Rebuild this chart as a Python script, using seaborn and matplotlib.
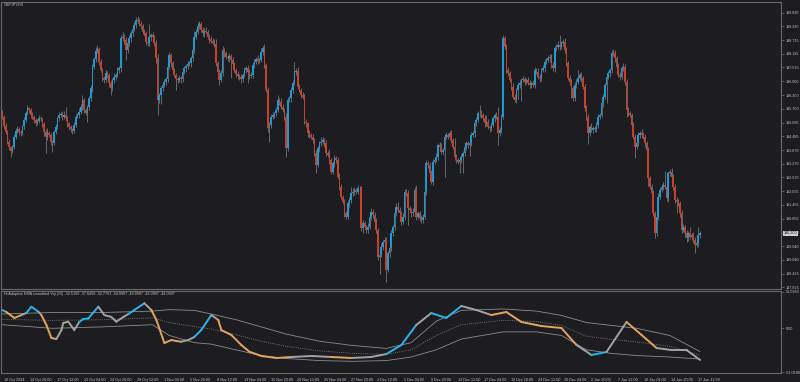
import numpy as np
import pandas as pd
import matplotlib
matplotlib.use("Agg")
import matplotlib.pyplot as plt
import matplotlib.transforms as mtransforms
from matplotlib.collections import LineCollection
import seaborn as sns

# ---------------- data ----------------
symbol_title = "GBPJPY,H4"
ind_title = "Hi Adaptive EMA smoothed Vqi (15) -32.5150 -37.6456 -42.7761 -44.0907 -44.0907 -44.0907 -44.0907"

first_open = 195.55
close = [
 195.35,194.93,194.68,194.24,194.02,193.85,194.02,194.46,194.73,194.79,194.68,194.61,194.93,195.20,195.49,195.71,195.64,195.42,195.35,195.20,
 195.08,195.17,195.27,195.23,195.02,194.68,194.43,194.64,194.54,194.24,194.20,194.68,194.90,195.27,195.42,195.46,195.35,195.42,195.27,195.05,
 194.90,194.79,194.73,194.98,195.35,195.42,195.57,195.79,196.08,195.64,195.52,195.76,196.15,196.59,197.55,197.87,198.26,198.31,197.77,197.40,
 197.04,196.96,197.26,197.18,196.82,196.59,196.96,197.11,197.18,197.40,197.48,198.80,198.87,198.73,198.29,198.58,198.80,199.02,199.20,199.39,
 199.61,199.58,199.43,199.34,199.09,199.02,198.65,198.58,198.84,198.95,198.87,198.58,197.92,196.08,196.30,196.59,196.74,196.89,196.99,197.55,
 198.06,197.70,197.40,197.18,196.99,196.96,197.04,196.99,197.33,197.48,197.58,197.67,197.70,197.92,198.29,198.87,199.09,199.34,199.43,199.17,
 199.02,199.14,199.09,198.87,198.76,198.70,198.61,198.55,197.70,197.33,196.96,197.26,198.29,198.14,197.99,197.92,198.02,197.84,197.67,197.40,
 197.23,197.14,197.08,196.99,197.18,197.40,197.48,197.33,197.14,197.18,197.62,197.77,197.87,197.81,197.84,198.21,198.36,197.62,196.52,194.83,
 194.98,195.35,195.42,195.49,195.64,196.08,196.01,195.79,195.64,195.35,193.95,196.08,196.15,196.52,196.82,197.33,197.37,196.67,196.52,196.30,
 196.23,195.12,195.05,194.61,194.54,194.46,194.32,193.73,193.21,193.95,194.17,194.24,194.32,194.17,193.73,193.65,193.43,192.92,193.29,193.51,
 193.43,192.70,192.26,191.82,191.60,191.08,190.94,191.52,191.67,191.96,192.04,192.11,192.04,192.18,192.18,190.42,190.64,190.49,190.35,190.49,
 190.94,191.16,191.01,190.71,190.35,189.17,189.24,189.61,189.83,189.91,188.58,189.32,189.54,190.20,190.49,191.08,191.38,191.23,191.08,190.71,
 190.94,192.04,191.96,191.30,191.23,191.08,191.16,192.11,190.94,191.08,190.86,190.79,190.94,192.04,193.29,193.21,192.85,192.48,193.36,193.43,
 193.58,194.10,194.02,193.80,193.88,194.46,194.54,194.46,194.61,194.32,194.02,193.58,193.43,193.36,193.43,193.58,193.73,194.02,194.17,194.10,
 194.17,194.54,194.61,195.05,195.20,195.49,195.52,195.42,195.27,195.05,195.12,194.90,194.83,194.98,195.27,195.42,195.35,194.61,194.76,195.35,
 198.80,198.43,197.40,197.26,196.96,196.67,196.23,196.08,196.52,196.74,196.82,196.96,196.99,196.89,196.96,196.82,196.74,196.82,196.74,197.40,
 197.33,197.11,197.04,197.40,197.48,197.77,197.84,197.92,197.99,197.62,197.48,198.36,198.43,198.51,198.43,198.58,198.65,198.29,197.70,197.04,
 196.89,196.59,196.15,196.74,196.89,197.04,197.18,197.04,196.67,195.71,195.35,194.61,194.90,194.76,194.83,194.79,194.98,195.35,195.42,195.93,
 196.23,196.74,197.11,197.26,197.40,198.14,198.17,197.92,197.55,197.18,197.11,197.48,197.55,196.89,195.64,195.49,195.42,194.98,194.46,194.02,
 194.17,194.54,194.61,194.54,194.46,194.17,193.88,192.63,192.26,191.96,191.08,190.20,190.94,191.82,192.11,192.26,192.33,192.26,191.74,192.85,
 192.92,192.70,192.26,191.67,191.60,191.52,191.08,190.35,190.49,190.20,189.98,190.20,190.05,190.13,189.91,189.69,189.76,190.13,190.20]

wick_up = [
 0.10,0.08,0.12,0.06,0.10,0.05,0.08,0.12,0.10,0.15,0.08,0.10,0.06,0.12,0.10,0.14,0.08,0.10,0.12,0.06,
 0.10,0.08,0.15,0.10,0.06,0.10,0.12,0.20,0.08,0.10,0.06,0.10,0.12,0.08,0.15,0.10,0.12,0.18,0.37,0.10,
 0.08,0.10,0.06,0.12,0.10,0.08,0.15,0.12,0.20,0.10,0.08,0.12,0.10,0.15,0.12,0.10,0.15,0.18,0.10,0.12,
 0.08,0.10,0.15,0.10,0.08,0.12,0.10,0.15,0.08,0.12,0.10,0.15,0.20,0.10,0.12,0.10,0.15,0.12,0.10,0.15,
 0.12,0.18,0.10,0.15,0.08,0.10,0.12,0.15,0.60,0.10,0.12,0.08,0.15,0.20,0.10,0.12,0.15,0.10,0.12,0.10,
 0.15,0.10,0.12,0.08,0.10,0.12,0.15,0.10,0.08,0.12,0.10,0.15,0.10,0.12,0.10,0.25,0.12,0.20,0.15,0.10,
 0.12,0.10,0.15,0.08,0.10,0.12,0.10,0.15,0.20,0.10,0.12,0.15,0.18,0.10,0.12,0.08,0.15,0.10,0.12,0.10,
 0.08,0.12,0.10,0.15,0.10,0.12,0.08,0.15,0.10,0.12,0.15,0.10,0.12,0.20,0.10,0.15,0.12,0.18,0.10,0.15,
 0.12,0.10,0.15,0.08,0.12,0.20,0.10,0.15,0.12,0.10,0.15,0.12,0.10,0.15,0.12,0.44,0.10,0.15,0.12,0.10,
 0.15,0.10,0.12,0.08,0.15,0.10,0.12,0.10,0.15,0.12,0.10,0.20,0.12,0.10,0.15,0.12,0.25,0.10,0.12,0.15,
 0.10,0.12,0.15,0.10,0.08,0.12,0.10,0.15,0.12,0.30,0.15,0.12,0.10,0.15,0.12,0.10,0.15,0.12,0.10,0.15,
 0.12,0.15,0.10,0.12,0.15,0.10,0.12,0.15,0.10,0.12,0.15,0.10,0.12,0.15,0.10,0.12,0.15,0.20,0.12,0.10,
 0.15,0.12,0.10,0.15,0.12,0.10,0.15,0.12,0.22,0.10,0.12,0.15,0.10,0.12,0.15,0.10,0.12,0.15,0.10,0.12,
 0.15,0.10,0.12,0.15,0.10,0.12,0.15,0.10,0.12,0.15,0.10,0.40,0.12,0.10,0.15,0.12,0.10,0.15,0.12,0.10,
 0.15,0.12,0.10,0.15,0.12,0.10,0.35,0.12,0.10,0.15,0.30,0.12,0.10,0.15,0.12,0.10,0.15,0.40,0.12,0.10,
 0.15,0.12,0.10,0.15,0.12,0.10,0.15,0.12,0.10,0.15,0.12,0.10,0.15,0.12,0.10,0.15,0.12,0.10,0.15,0.12,
 0.10,0.15,0.12,0.10,0.15,0.12,0.10,0.15,0.12,0.10,0.15,0.12,0.10,0.15,0.45,0.12,0.10,0.15,0.12,0.10,
 0.15,0.12,0.10,0.15,0.12,0.35,0.10,0.15,0.12,0.10,0.15,0.12,0.10,0.15,0.12,0.10,0.15,0.12,0.10,0.15,
 0.12,0.10,0.15,0.12,0.10,0.15,0.15,0.12,0.10,0.15,0.12,0.10,0.15,0.12,0.10,0.15,0.12,0.10,0.15,0.12,
 0.10,0.15,0.12,0.20,0.15,0.12,0.10,0.15,0.12,0.10,0.15,0.12,0.10,0.15,0.12,0.10,0.15,0.60,0.12,0.10,
 0.10,0.15,0.12,0.10,0.15,0.12,0.10,0.15,0.12,0.10,0.15,0.12,0.30,0.10,0.15,0.12,0.10,0.35,0.12]

wick_dn = [
 0.10,0.12,0.08,0.10,0.15,0.26,0.10,0.08,0.12,0.10,0.15,0.10,0.08,0.12,0.10,0.08,0.12,0.15,0.10,0.12,
 0.15,0.10,0.12,0.08,0.15,0.20,0.70,0.12,0.10,0.15,0.40,0.12,0.10,0.08,0.12,0.10,0.15,0.12,0.10,0.15,
 0.12,0.10,0.15,0.12,0.10,0.08,0.12,0.10,0.15,0.12,0.10,0.40,0.12,0.10,0.15,0.12,0.10,0.12,0.15,0.10,
 0.12,0.15,0.10,0.12,0.15,0.30,0.10,0.12,0.15,0.10,0.12,0.15,0.10,0.20,0.45,0.12,0.10,0.15,0.12,0.10,
 0.15,0.12,0.10,0.15,0.12,0.10,0.15,0.12,0.10,0.15,0.12,0.10,0.20,0.66,0.15,0.40,0.12,0.10,0.15,0.12,
 0.10,0.15,0.12,0.10,0.45,0.12,0.10,0.15,0.12,0.10,0.15,0.12,0.10,0.15,0.12,0.15,0.10,0.12,0.15,0.10,
 0.12,0.15,0.10,0.12,0.15,0.10,0.12,0.15,0.10,0.12,0.22,0.10,0.12,0.15,0.10,0.12,0.15,0.80,0.12,0.10,
 0.15,0.12,0.10,0.15,0.12,0.10,0.15,0.50,0.12,0.10,0.15,0.12,0.10,0.15,0.12,0.10,0.15,0.12,0.10,0.15,
 0.60,0.12,0.10,0.15,0.12,0.10,0.15,0.12,0.10,0.15,0.40,0.12,0.10,0.15,0.12,0.10,0.15,0.12,0.10,0.15,
 0.12,0.10,0.15,0.15,0.12,0.10,0.15,0.12,0.35,0.10,0.15,0.12,0.10,0.15,0.12,0.10,0.15,0.12,0.10,0.15,
 0.12,0.10,0.15,0.12,0.10,0.15,0.12,0.10,0.15,0.12,0.10,0.15,0.12,0.10,0.15,0.12,0.22,0.10,0.15,0.12,
 0.10,0.15,0.12,0.10,0.15,0.12,0.75,0.10,0.15,0.12,0.50,0.10,0.15,0.12,0.10,0.15,0.12,0.10,0.15,0.12,
 0.10,0.15,0.12,0.75,0.10,0.15,0.12,0.10,0.15,0.12,0.10,0.15,0.12,0.10,0.15,0.12,0.30,0.10,0.15,0.12,
 0.10,0.15,0.12,0.10,0.15,1.20,0.12,0.10,0.15,0.12,0.10,0.15,0.12,0.10,0.50,0.12,0.70,0.10,0.15,0.12,
 0.50,0.12,0.10,0.15,0.12,0.10,0.15,0.12,0.10,0.15,0.12,0.10,0.15,0.12,0.10,0.15,0.12,0.50,0.10,0.15,
 0.12,0.10,0.15,0.12,0.10,0.15,0.12,0.10,0.15,0.40,0.12,0.80,0.10,0.15,0.12,0.10,0.15,0.12,0.10,0.15,
 0.12,0.10,0.15,0.12,0.10,0.15,0.12,0.10,0.15,0.12,0.10,0.15,0.12,0.10,0.15,0.12,0.10,0.15,0.12,0.10,
 0.15,0.40,0.12,0.10,0.15,0.12,0.10,0.15,0.12,0.10,0.15,0.45,0.12,0.10,0.15,0.12,0.10,0.15,0.12,0.10,
 0.15,0.12,0.80,0.10,0.15,0.12,0.10,0.15,0.12,0.10,0.15,0.12,0.10,0.15,0.30,0.12,0.10,0.15,0.12,0.50,
 0.12,0.10,0.15,0.12,0.10,0.15,0.12,0.35,0.10,0.15,0.12,0.20,0.10,0.15,0.12,0.10,0.15,0.12,0.10,0.15,
 0.12,0.10,0.15,0.12,0.50,0.10,0.15,0.12,0.10,0.15,0.15,0.12,0.10,0.15,0.12,0.35,0.10,0.15,0.12]

price_ticks = [199.930,199.330,198.715,198.115,197.515,196.900,196.300,195.700,195.085,194.485,
               193.870,193.270,192.670,192.055,191.455,190.855,190.240,189.640,189.040,188.425,187.825]

time_labels = ["10 Oct 2024","14 Oct 20:00","17 Oct 12:00","22 Oct 04:00","24 Oct 20:00","29 Oct 12:00",
               "1 Nov 04:00","5 Nov 20:00","8 Nov 12:00","13 Nov 04:00","15 Nov 20:00","20 Nov 12:00",
               "25 Nov 04:00","27 Nov 20:00","2 Dec 12:00","5 Dec 04:00","9 Dec 20:00","12 Dec 12:00",
               "17 Dec 04:00","19 Dec 20:00","24 Dec 12:00","30 Dec 04:00","2 Jan 20:00","7 Jan 12:00",
               "10 Jan 04:00","14 Jan 20:00","17 Jan 12:00"]
time_label_bars = [0,16,32,48,64,80,96,112,128,144,160,176,192,208,224,240,256,272,288,304,320,336,352,368,384,400,416]

# indicator: main line samples (bar position, value) and segment colour state
ind_bar = [0,2.4,7.2,11.4,14.4,17.4,21.6,23.4,26.4,29.4,32.4,35.4,36.5,39.5,43.1,46.1,48.5,51.5,57.5,61.1,
           65.3,68.3,72.5,75.5,79.1,85.1,89.3,92.3,97.1,101.3,104.3,107.2,111.4,115.0,119.2,125.2,129.4,131.2,137.2,143.2,
           148.0,155.2,164.2,173.2,185.1,197.1,209.1,221.1,230.1,239.1,248.0,257.0,266.0,275.0,284.0,293.0,302.0,311.0,323.0,335.0,
           344.0,353.0,362.0,374.0,383.0,392.0,401.0,410.0,418.0]
ind_val = [25.5,22.7,14.4,18.5,21.3,30.1,23.1,18.5,4.6,-13.5,-14.9,-2.4,7.4,9.2,-2.4,8.8,13.0,13.7,30.1,18.5,
           15.8,9.2,15.8,19.9,25.5,34.9,25.5,11.6,-20.5,-16.3,-17.7,-18.7,-16.3,-12.1,-2.4,18.5,11.6,-2.4,-9.3,-23.3,
           -32.6,-38.6,-41.4,-40.0,-38.6,-40.0,-41.4,-40.0,-35.8,-23.3,4.6,21.3,14.4,31.1,25.5,18.5,22.7,8.8,3.2,0.4,
           -23.3,-37.2,-33.0,8.8,-9.3,-27.5,-30.3,-30.3,-44.09]
ind_state = ["c","o","o","n","c","c","n","o","o","o","n","n","n","n","n","c","c","c","n","n",
             "n","n","n","c","c","n","o","o","o","o","o","n","n","c","c","n","o","o","o","o",
             "o","o","o","n","n","o","n","n","c","c","n","c","c","n","n","o","o","o","o","o",
             "n","c","n","o","o","n","n","n","n"]

band_bar = [0,30,60,90,100,115,125,140,155,170,190,210,230,245,260,275,300,320,335,350,365,380,400,418]
band_upper = [20,22,22,24,26,25,20,12,2,-8,-18,-24,-28,-20,10,25,27,24,18,8,4,0,-10,-32.5]
band_mid = [12.5,11,12,14.5,8,2.5,-1,-9,-18,-25,-31.5,-35,-36.5,-30,-10,5,11,9.5,4,-11,-15.5,-19,-25,-37.6]
band_lower = [5,0,2,5,-10,-20,-22,-30,-38,-42,-45,-46,-45,-40,-30,-15,-5,-5,-10,-30,-35,-38,-40,-42.8]
ind_ticks = [51.0383, 0.0, -61.0188]
ind_tick_labels = ["51.0383", "0.00", "-61.0188"]

# ---------------- style ----------------
BG = "#1d1d21"
FRAME = "#6a6a6a"
TXT = "#c4c4c4"
UP = "#1c9ad6"
DN = "#c9412a"
WICK = "#7c7c7c"
CYAN = "#27b6e6"
ORANGE = "#e3a460"
NEUTRAL = "#a3a3a3"
BAND = "#8c8c8c"

sns.set_theme(style="dark", rc={"axes.facecolor": BG, "figure.facecolor": BG})
plt.rcParams["font.family"] = ["Liberation Sans", "DejaVu Sans"]
FS = 2.7

fig = plt.figure(figsize=(8.0, 3.82), dpi=100)
W, H = 800.0, 382.0

ax = fig.add_axes([1 / W, 93 / H, 780 / W, 287 / H])
ax2 = fig.add_axes([1 / W, 9 / H, 780 / W, 82 / H])

n = len(close)
x = np.arange(n)
opens = np.array([first_open] + close[:-1])
closes = np.array(close)
top = np.maximum(opens, closes)
bot = np.minimum(opens, closes)
highs = top + np.array(wick_up)
lows = bot - np.array(wick_dn)
df = pd.DataFrame({"bar": x, "open": opens, "close": closes, "high": highs, "low": lows})
df["up"] = df["close"] >= df["open"]

ax.vlines(df["bar"], df["low"], df["high"], color=WICK, linewidth=0.55, zorder=1)
heights = np.maximum(np.abs(df["close"] - df["open"]), 0.025)
ax.bar(df["bar"], heights, bottom=np.minimum(df["open"], df["close"]), width=1.0,
       color=np.where(df["up"], UP, DN), linewidth=0, zorder=2)

XL = (-0.8, -0.8 + 780 / 1.669)
ax.set_xlim(*XL)
ax.set_ylim(187.75, 200.40)

for a in (ax, ax2):
    a.set_facecolor(BG)
    for s in a.spines.values():
        s.set_color(FRAME)
        s.set_linewidth(0.8)
        s.set_visible(True)
    a.grid(False)

ax.yaxis.tick_right()
ax.set_yticks(price_ticks)
ax.set_yticklabels([f"{v:.3f}" for v in price_ticks])
ax.tick_params(axis="y", direction="out", length=2, width=0.5, colors=FRAME,
               labelcolor=TXT, labelsize=FS, pad=1.5)
ax.set_xticks([])
ax.set_xlabel("")
ax.set_ylabel("")

# current price tag
last = close[-1]
trans = mtransforms.blended_transform_factory(ax.transAxes, ax.transData)
ax.text(1.004, last, f"{last:.3f}", transform=trans, fontsize=FS, color="#111111",
        va="center", ha="left", clip_on=False,
        bbox=dict(boxstyle="square,pad=0.2", fc="#cfcfcf", ec="#cfcfcf", lw=0))

# ---------------- indicator ----------------
bands = pd.DataFrame({"bar": band_bar, "upper": band_upper, "mid": band_mid, "lower": band_lower})
sns.lineplot(data=bands, x="bar", y="upper", ax=ax2, color=BAND, linewidth=0.6, estimator=None)
sns.lineplot(data=bands, x="bar", y="lower", ax=ax2, color=BAND, linewidth=0.6, estimator=None)
sns.lineplot(data=bands, x="bar", y="mid", ax=ax2, color=BAND, linewidth=0.6, estimator=None,
             linestyle=(0, (1, 1.6)))

cmap = {"c": CYAN, "o": ORANGE, "n": NEUTRAL}
pts = np.column_stack([ind_bar, ind_val])
segs = np.stack([pts[:-1], pts[1:]], axis=1)
lc = LineCollection(segs, colors=[cmap[s] for s in ind_state[:-1]], linewidths=1.4,
                    capstyle="round", joinstyle="round", zorder=3)
ax2.add_collection(lc)

ax2.set_xlim(*XL)
ax2.set_ylim(-62.3, 52.0)
ax2.yaxis.tick_right()
ax2.set_yticks(ind_ticks)
ax2.set_yticklabels(ind_tick_labels)
ax2.tick_params(axis="y", direction="out", length=2, width=0.5, colors=FRAME,
                labelcolor=TXT, labelsize=FS, pad=1.5)
ax2.set_xticks(time_label_bars)
ax2.set_xticklabels(time_labels)
ax2.tick_params(axis="x", direction="out", length=2.5, width=0.5, colors=FRAME,
                labelcolor=TXT, labelsize=FS, pad=1.0)
offset = mtransforms.ScaledTranslation(1.2 / 100, 0, fig.dpi_scale_trans)
for lbl in ax2.get_xticklabels():
    lbl.set_horizontalalignment("left")
    lbl.set_transform(lbl.get_transform() + offset)
ax2.set_xlabel("")
ax2.set_ylabel("")

fig.text(4 / W, 1 - 4.5 / H, symbol_title, fontsize=FS, color=TXT, va="center", ha="left")
fig.text(4 / W, 1 - 293.5 / H, ind_title, fontsize=FS, color=TXT, va="center", ha="left")

fig.savefig("out.png", dpi=100, facecolor=BG)
